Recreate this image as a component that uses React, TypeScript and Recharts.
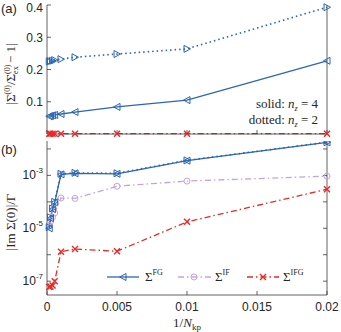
import React from 'react'
import { LineChart, Line, XAxis, YAxis } from 'recharts'

// shared 1/N_kp sample points
const xs = [0.00016, 0.00025, 0.0004, 0.00055, 0.001, 0.002, 0.005, 0.01, 0.02]

// panel (a): |Σ(0)/Σ(0)_ex - 1|
const relFGn4 = [0.055, 0.056, 0.058, 0.059, 0.062, 0.068, 0.084, 0.105, 0.227]
const relFGn2 = [0.225, 0.226, 0.227, 0.229, 0.232, 0.238, 0.248, 0.264, 0.393]
const relIFG = [0.001, 0.001, 0.001, 0.001, 0.001, 0.001, 0.001, 0.001, 0.001]

// panel (b): |Im Σ(0)|/Γ
const imFGn4 = [1.0e-5, 2.4e-5, 5.3e-5, 9.6e-5, 1.1e-3, 1.2e-3, 1.15e-3, 3.6e-3, 1.78e-2]
const imFGn2 = [1.1e-5, 2.6e-5, 5.6e-5, 1.0e-4, 1.15e-3, 1.25e-3, 1.2e-3, 3.7e-3, 1.8e-2]
const imIF = [1.3e-5, 1.8e-5, 2.6e-5, 3.8e-5, 1.4e-4, 1.35e-4, 3.9e-4, 6.1e-4, 9.4e-4]
const imIFG = [6.0e-8, 6.3e-8, 6.8e-8, 1.0e-7, 1.3e-6, 1.65e-6, 1.35e-6, 1.75e-5, 3.0e-4]

const xTicks = [0, 0.005, 0.01, 0.015, 0.02]
const relTicks = [0, 0.1, 0.2, 0.3, 0.4]
const logTicks = [1e-7, 1e-6, 1e-5, 1e-4, 1e-3, 1e-2]

const BLUE = '#2B66B3'
const RED = '#E52A2A'
const PURPLE = '#C3A5DB'
const AXIS = '#3a3a3a'
const TXT = '#262626'
const SANS = '"Liberation Sans", Arial, sans-serif'
const SERIF = '"Liberation Serif", "Times New Roman", serif'

const pts = (ys: number[]) => xs.map((x, i) => ({ x, y: ys[i] }))

const triL = (c: string) => (p: any) =>
  p.cx == null ? <g key={p.index} /> : (
    <path key={p.index} d={`M${p.cx - 3.5},${p.cy} L${p.cx + 3},${p.cy - 3.5} L${p.cx + 3},${p.cy + 3.5} Z`} fill="none" stroke={c} strokeWidth={1} />
  )
const triR = (c: string) => (p: any) =>
  p.cx == null ? <g key={p.index} /> : (
    <path key={p.index} d={`M${p.cx + 3.5},${p.cy} L${p.cx - 3},${p.cy - 3.5} L${p.cx - 3},${p.cy + 3.5} Z`} fill="none" stroke={c} strokeWidth={1} />
  )
const circ = (c: string) => (p: any) =>
  p.cx == null ? <g key={p.index} /> : <circle key={p.index} cx={p.cx} cy={p.cy} r={3} fill="none" stroke={c} strokeWidth={1} />
const cross = (c: string) => (p: any) =>
  p.cx == null ? <g key={p.index} /> : (
    <path key={p.index} d={`M${p.cx - 3},${p.cy - 3} L${p.cx + 3},${p.cy + 3} M${p.cx - 3},${p.cy + 3} L${p.cx + 3},${p.cy - 3}`} stroke={c} strokeWidth={1.4} />
  )

const LogTick = (props: any) => {
  const { x, y, payload } = props
  const e = Math.round(Math.log10(payload.value))
  if (e % 2 === 0) return <g />
  return (
    <text x={x} y={y + 4} textAnchor="end" fontSize={12} fontFamily={SANS} fill={TXT}>
      10<tspan fontSize={8} dy={-6}>{String(e)}</tspan>
    </text>
  )
}

const axisCommon = { stroke: AXIS, strokeWidth: 0.8 }
const blank = () => ''

export default function App() {
  return (
    <div style={{ position: 'absolute', left: 0, top: 0, width: 341, height: 332, background: '#fff' }}>
      {/* (a) */}
      <div style={{ position: 'absolute', left: 0, top: 0 }}>
        <LineChart width={341} height={138} margin={{ top: 5, right: 0, bottom: 0, left: 0 }}>
          <XAxis type="number" dataKey="x" domain={[0, 0.02]} ticks={xTicks} tickFormatter={blank}
            tickSize={-4} height={4} axisLine={axisCommon} tickLine={axisCommon} />
          <XAxis xAxisId="t" orientation="top" type="number" dataKey="x" domain={[0, 0.02]} ticks={xTicks}
            tickFormatter={blank} tickSize={-4} height={0} axisLine={axisCommon} tickLine={axisCommon} />
          <YAxis type="number" domain={[0, 0.4]} ticks={relTicks} width={47} tickSize={-4} tickMargin={8}
            axisLine={axisCommon} tickLine={axisCommon}
            tick={{ fill: TXT, fontSize: 12, fontFamily: SANS }} />
          <YAxis yAxisId="r" orientation="right" type="number" domain={[0, 0.4]} ticks={relTicks} width={14}
            tickSize={-4} tickFormatter={blank} axisLine={axisCommon} tickLine={axisCommon} />
          <Line data={pts(relIFG)} dataKey="y" stroke={RED} strokeWidth={1.3} strokeDasharray="6 3 1.5 3"
            dot={cross(RED)} isAnimationActive={false} />
          <Line data={pts(relFGn4)} dataKey="y" stroke={BLUE} strokeWidth={1.3}
            dot={triL(BLUE)} isAnimationActive={false} />
          <Line data={pts(relFGn2)} dataKey="y" stroke={BLUE} strokeWidth={1.6} strokeDasharray="1.5 3"
            dot={triR(BLUE)} isAnimationActive={false} />
        </LineChart>
      </div>

      {/* (b) */}
      <div style={{ position: 'absolute', left: 0, top: 137 }}>
        <LineChart width={341} height={195} margin={{ top: 4, right: 0, bottom: 0, left: 0 }}>
          <XAxis type="number" dataKey="x" domain={[0, 0.02]} ticks={xTicks} tickSize={-4} tickMargin={11}
            height={37} axisLine={axisCommon} tickLine={axisCommon}
            tickFormatter={(v: number) => String(v)}
            tick={{ fill: TXT, fontSize: 12, fontFamily: SANS }} />
          <XAxis xAxisId="t" orientation="top" type="number" dataKey="x" domain={[0, 0.02]} ticks={xTicks}
            tickFormatter={blank} tickSize={-4} height={0} axisLine={axisCommon} tickLine={axisCommon} />
          <YAxis type="number" scale="log" domain={[3e-8, 0.02]} allowDataOverflow ticks={logTicks} width={47}
            tickSize={-4} tickMargin={8} axisLine={axisCommon} tickLine={axisCommon} tick={<LogTick />} />
          <YAxis yAxisId="r" orientation="right" type="number" scale="log" domain={[3e-8, 0.02]} allowDataOverflow
            ticks={logTicks} width={14} tickSize={-4} tickFormatter={blank} axisLine={axisCommon} tickLine={axisCommon} />
          <Line data={pts(imIFG)} dataKey="y" stroke={RED} strokeWidth={1.3} strokeDasharray="6 3 1.5 3"
            dot={cross(RED)} isAnimationActive={false} />
          <Line data={pts(imIF)} dataKey="y" stroke={PURPLE} strokeWidth={1.3} strokeDasharray="6 3 1.5 3"
            dot={circ(PURPLE)} isAnimationActive={false} />
          <Line data={pts(imFGn2)} dataKey="y" stroke={BLUE} strokeWidth={1.6} strokeDasharray="1.5 3"
            dot={triR(BLUE)} isAnimationActive={false} />
          <Line data={pts(imFGn4)} dataKey="y" stroke={BLUE} strokeWidth={1.3}
            dot={triL(BLUE)} isAnimationActive={false} />
        </LineChart>
      </div>

      {/* labels, annotation and legend */}
      <svg width={341} height={332} style={{ position: 'absolute', left: 0, top: 0, pointerEvents: 'none' }}>
        <text x={1} y={13} fontSize={13} fontFamily={SANS} fill={TXT}>(a)</text>
        <text x={1} y={154} fontSize={13} fontFamily={SANS} fill={TXT}>(b)</text>

        <text transform="translate(15,74) rotate(-90)" textAnchor="middle" fontSize={13} fontFamily={SERIF} fill={TXT}>
          |Σ<tspan fontSize={8} dy={-5}>(0)</tspan>
          <tspan fontSize={13} dy={5}>/Σ</tspan>
          <tspan fontSize={8} dy={-5}>(0)</tspan>
          <tspan fontSize={8} dx={-9.3} dy={8}>ex</tspan>
          <tspan fontSize={13} dy={-3}> − 1|</tspan>
        </text>

        <text transform="translate(15,222) rotate(-90)" textAnchor="middle" fontSize={13} fontFamily={SERIF} fill={TXT}>
          |Im Σ(0)|/Γ
        </text>

        <text x={187} y={327} textAnchor="middle" fontSize={13} fontFamily={SERIF} fill={TXT}>
          1/<tspan fontStyle="italic">N</tspan><tspan fontSize={9} dy={3}>kp</tspan>
        </text>

        <text x={318} y={108} textAnchor="end" fontSize={13} fontFamily={SERIF} fill={TXT}>
          solid: <tspan fontStyle="italic">n</tspan><tspan fontSize={8} fontStyle="italic" dy={3}>z</tspan><tspan dy={-3}> = 4</tspan>
        </text>
        <text x={318} y={124} textAnchor="end" fontSize={13} fontFamily={SERIF} fill={TXT}>
          dotted: <tspan fontStyle="italic">n</tspan><tspan fontSize={8} fontStyle="italic" dy={3}>z</tspan><tspan dy={-3}> = 2</tspan>
        </text>

        {/* legend */}
        <line x1={107} y1={277} x2={139} y2={277} stroke={BLUE} strokeWidth={1.3} />
        <path d="M119.5,277 L126,273.5 L126,280.5 Z" fill="none" stroke={BLUE} />
        <text x={145} y={281} fontSize={13} fontFamily={SERIF} fill={TXT}>
          Σ<tspan fontSize={8} dy={-6}>FG</tspan>
        </text>
        <line x1={178} y1={277} x2={211} y2={277} stroke={PURPLE} strokeWidth={1.3} strokeDasharray="6 3 1.5 3" />
        <circle cx={194} cy={277} r={3} fill="none" stroke={PURPLE} />
        <text x={215} y={281} fontSize={13} fontFamily={SERIF} fill={TXT}>
          Σ<tspan fontSize={8} dy={-6}>IF</tspan>
        </text>
        <line x1={247} y1={277} x2={279} y2={277} stroke={RED} strokeWidth={1.3} strokeDasharray="6 3 1.5 3" />
        <path d="M260,274 L266,280 M260,280 L266,274" stroke={RED} strokeWidth={1.4} />
        <text x={283} y={281} fontSize={13} fontFamily={SERIF} fill={TXT}>
          Σ<tspan fontSize={8} dy={-6}>IFG</tspan>
        </text>
      </svg>
    </div>
  )
}
